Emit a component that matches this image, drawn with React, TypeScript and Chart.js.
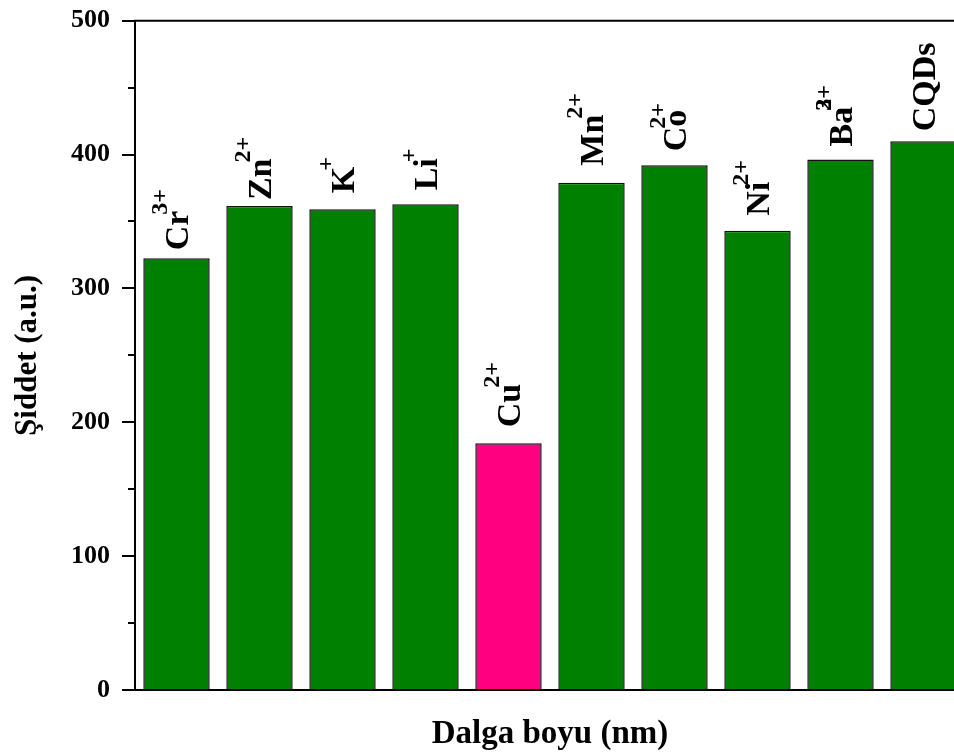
import React, { useEffect, useRef } from "react";
import { Chart, registerables } from "chart.js";

Chart.register(...registerables);

const categories = ["Cr", "Zn", "K", "Li", "Cu", "Mn", "Co", "Ni", "Ba", "CQDs"];
const ionCharges = ["3+", "2+", "+", "+", "2+", "2+", "2+", "2+", "2+", ""];
const ionOverlay = ["", "", "", "", "", "", "", "", "3", ""];
const intensities = [322.5, 361.5, 359.1, 362.8, 184.3, 379, 392, 343.1, 396.4, 409.9];
const barColors = ["#008000", "#008000", "#008000", "#008000", "#FF0080", "#008000", "#008000", "#008000", "#008000", "#008000"];
const yTickValues = [0, 50, 100, 150, 200, 250, 300, 350, 400, 450, 500];

// style: gap (px) between bar top and the start of its rotated label
const labelGaps = [8, 6, 16, 14, 16, 17, 14, 15, 13, 10];

const SERIF = "'Liberation Serif', 'Times New Roman', serif";

const labelPlugin = {
  id: "ionLabels",
  afterDatasetsDraw(chart: any) {
    const ctx = chart.ctx;
    const meta = chart.getDatasetMeta(0);
    const baseSize = 34;
    const supSize = 24;
    meta.data.forEach((el: any, i: number) => {
      const base = categories[i];
      const sup = ionCharges[i];
      const over = ionOverlay[i];
      ctx.save();
      ctx.translate(el.x + 11, el.y - labelGaps[i]);
      ctx.rotate(-Math.PI / 2);
      ctx.fillStyle = "#000";
      ctx.textAlign = "left";
      ctx.textBaseline = "alphabetic";
      ctx.font = `bold ${baseSize}px ${SERIF}`;
      ctx.fillText(base, 0, 0);
      let w = ctx.measureText(base).width;
      if (base === "Co") w -= ctx.measureText("o").width - 2;
      ctx.font = `bold ${supSize}px ${SERIF}`;
      if (sup) ctx.fillText(sup, w - 4, -21);
      if (over) ctx.fillText(over, w - 4, -21);
      ctx.restore();
    });
  },
};

const framePlugin = {
  id: "frame",
  afterDatasetsDraw(chart: any) {
    const ctx = chart.ctx;
    const { left, right, top, bottom } = chart.chartArea;
    const y = chart.scales.y;
    ctx.save();
    ctx.strokeStyle = "#000";
    ctx.lineWidth = 2;
    ctx.beginPath();
    ctx.moveTo(left, top);
    ctx.lineTo(right, top);
    ctx.lineTo(right, bottom);
    ctx.lineTo(left, bottom);
    ctx.closePath();
    ctx.stroke();
    yTickValues.forEach((v) => {
      const py = Math.round(y.getPixelForValue(v));
      const len = v % 100 === 0 ? 13 : 7;
      ctx.beginPath();
      ctx.moveTo(left - len, py);
      ctx.lineTo(left, py);
      ctx.stroke();
    });
    ctx.restore();
  },
};

export default function App() {
  const ref = useRef<HTMLCanvasElement>(null);
  useEffect(() => {
    const canvas = ref.current!;
    const chart = new Chart(canvas, {
      type: "bar",
      data: {
        labels: categories,
        datasets: [
          {
            data: intensities,
            backgroundColor: barColors,
            borderColor: "#111",
            borderWidth: 1.5,
            barPercentage: 0.8,
            categoryPercentage: 1,
          },
        ],
      },
      options: {
        responsive: false,
        animation: false,
        devicePixelRatio: 1,
        layout: { padding: { top: 20.7, right: 15, left: 0, bottom: 0 } },
        plugins: { legend: { display: false }, tooltip: { enabled: false } },
        scales: {
          x: {
            grid: { display: false },
            border: { display: false },
            ticks: { display: false },
            title: {
              display: true,
              text: "Dalga boyu (nm)",
              color: "#000",
              font: { family: SERIF, size: 33, weight: "bold" },
              padding: { top: 0, bottom: 1 },
            },
            afterFit(scale: any) {
              scale.height = 65;
              scale.paddingLeft = 0;
              scale.paddingRight = 0;
            },
          },
          y: {
            min: 0,
            max: 500,
            grid: { display: false },
            border: { display: false },
            ticks: {
              stepSize: 100,
              padding: 17,
              color: "#000",
              font: { family: SERIF, size: 26, weight: "bold" },
            },
            title: {
              display: true,
              text: "Şiddet (a.u.)",
              color: "#000",
              font: { family: SERIF, size: 31, weight: "bold" },
              padding: { top: 9, bottom: 0 },
            },
            afterFit(scale: any) {
              scale.width = 135;
              scale.paddingTop = 0;
              scale.paddingBottom = 0;
            },
          },
        },
      },
      plugins: [labelPlugin, framePlugin],
    });
    return () => chart.destroy();
  }, []);
  return (
    <div
      style={{
        position: "fixed",
        left: 0,
        top: 0,
        width: 954,
        height: 755,
        overflow: "hidden",
        background: "#fff",
      }}
    >
      <canvas ref={ref} width={980} height={755} style={{ width: 980, height: 755, display: "block" }} />
    </div>
  );
}
